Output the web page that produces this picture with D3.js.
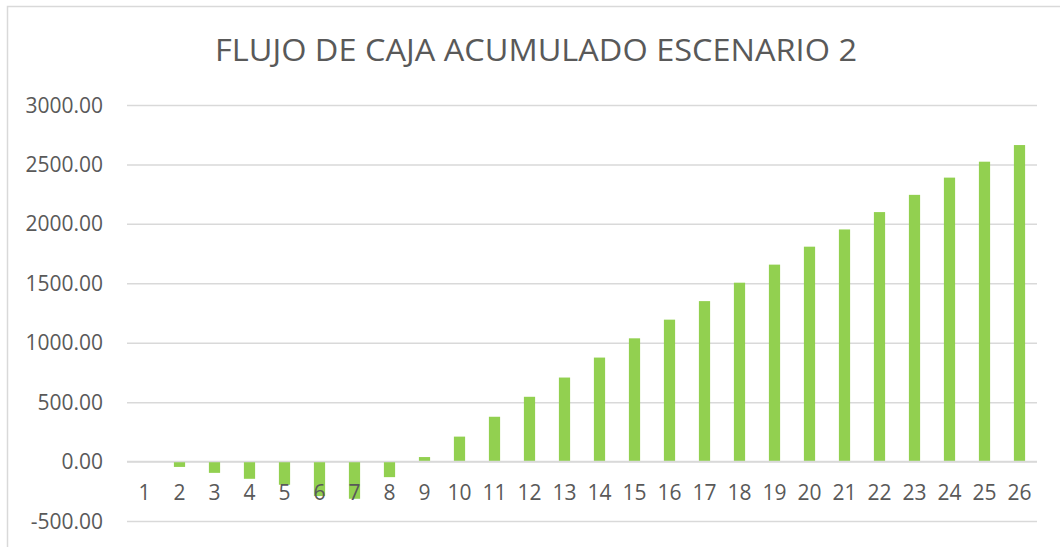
<!DOCTYPE html>
<html>
<head>
<meta charset="utf-8">
<script src="https://cdn.jsdelivr.net/npm/d3@7"></script>
<style>
  body { margin: 0; background: #fff; }
  text { font-family: "Open Sans", sans-serif; fill: #595959; }
</style>
</head>
<body>
<div id="chart"></div>
<script>
// DATA
const periods = ["1","2","3","4","5","6","7","8","9","10","11","12","13","14","15","16","17","18","19","20","21","22","23","24","25","26"];
const cumulativeFlow = [0, -45, -95, -145, -195, -290, -313, -131, 38, 210, 377, 545, 707, 875, 1037, 1194, 1350, 1505, 1657, 1808, 1953, 2099, 2244, 2389, 2523, 2663];
const yTicks = [-500, 0, 500, 1000, 1500, 2000, 2500, 3000];
const chartTitle = "FLUJO DE CAJA ACUMULADO ESCENARIO 2";

// CHART CODE
const svgWidth = 1060;
const svgHeight = 547;

const margin = { top: 105, bottom: 26, right: 23, left: 127 };
const width = svgWidth - margin.left - margin.right;
const height = svgHeight - margin.top - margin.bottom;

// plain hyphen for negatives, like the spreadsheet does
const fmt = d3.formatLocale({ decimal: ".", thousands: "", grouping: [3], currency: ["", ""], minus: "-" }).format(".2f");

const svg = d3.select("#chart")
  .append("svg")
  .attr("width", svgWidth)
  .attr("height", svgHeight);

// chart frame (only top and left edges are visible in the picture)
svg.append("rect")
  .attr("x", 7.5)
  .attr("y", 6.5)
  .attr("width", svgWidth + 20)
  .attr("height", svgHeight + 20)
  .attr("fill", "none")
  .attr("stroke", "#d9d9d9")
  .attr("stroke-width", 1.5);

// Title
svg.append("text")
  .attr("x", 536)
  .attr("y", 61)
  .attr("text-anchor", "middle")
  .attr("font-size", "31px")
  .attr("textLength", 642)
  .attr("lengthAdjust", "spacingAndGlyphs")
  .text(chartTitle);

const chartGroup = svg.append("g")
  .attr("transform", `translate(${margin.left}, ${margin.top})`);

// Scales
const xScale = d3.scaleBand()
  .domain(periods)
  .range([0, width])
  .paddingInner(0.68)
  .paddingOuter(0.34);

const yScale = d3.scaleLinear()
  .domain([-500, 3000])
  .range([416, 0]);

// Gridlines
chartGroup.append("g")
  .call(d3.axisLeft(yScale).tickValues(yTicks).tickSize(-width).tickFormat(""))
  .call(g => g.select(".domain").remove())
  .selectAll("line")
  .attr("stroke", "#d9d9d9")
  .attr("stroke-width", 1.5);

// y-axis labels
chartGroup.append("g")
  .selectAll("text")
  .data(yTicks)
  .enter()
  .append("text")
  .attr("x", -24)
  .attr("y", d => yScale(d))
  .attr("dy", "0.36em")
  .attr("text-anchor", "end")
  .attr("font-size", "21px")
  .text(d => fmt(d));

// Bars
const data = periods.map((p, i) => ({ period: p, value: cumulativeFlow[i] }));

chartGroup.selectAll("rect.bar")
  .data(data)
  .enter()
  .append("rect")
  .attr("class", "bar")
  .attr("x", d => xScale(d.period))
  .attr("width", xScale.bandwidth())
  .attr("y", d => yScale(Math.max(0, d.value)))
  .attr("height", d => Math.abs(yScale(d.value) - yScale(0)))
  .attr("fill", "#92d050");

// zero line on top of bars
chartGroup.append("line")
  .attr("x1", 0)
  .attr("x2", width)
  .attr("y1", yScale(0))
  .attr("y2", yScale(0))
  .attr("stroke", "#d9d9d9")
  .attr("stroke-width", 1.5);

// x-axis labels, sitting just below the zero line
chartGroup.append("g")
  .selectAll("text")
  .data(periods)
  .enter()
  .append("text")
  .attr("x", d => xScale(d) + xScale.bandwidth() / 2)
  .attr("y", yScale(0) + 38)
  .attr("text-anchor", "middle")
  .attr("font-size", "21px")
  .text(d => d);
</script>
</body>
</html>
